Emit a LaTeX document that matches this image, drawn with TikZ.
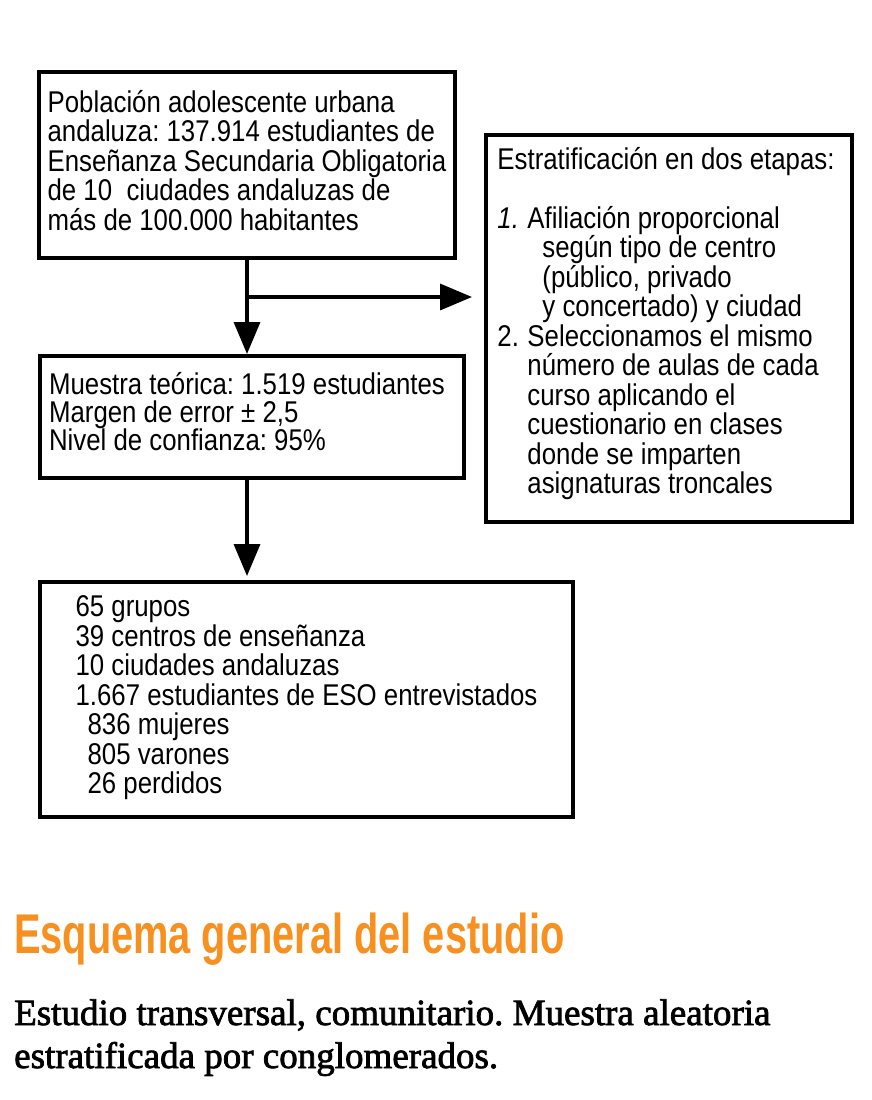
\documentclass[tikz,border=0pt]{standalone}
\usepackage{fontspec}
\usetikzlibrary{arrows.meta, positioning, calc}
\newfontfamily\condsans[FakeStretch=0.86]{Liberation Sans}
\newfontfamily\titlesans[FakeStretch=0.71, BoldFont={Liberation Sans Bold}]{Liberation Sans}
\newfontfamily\bodyserif[FakeBold=2]{Liberation Serif}
\definecolor{esquemaorange}{HTML}{F7901E}
\frenchspacing

\begin{document}
\begin{tikzpicture}[x=1pt, y=-1pt,
    caja/.style={draw=black, line width=4pt, align=left, inner sep=0pt, anchor=north west,
      text depth=10pt, font=\condsans\fontsize{30}{29.5}\selectfont},
    flecha/.style={line width=3.5pt, -{Triangle[length=32pt, width=26pt]}}]
  \useasboundingbox (0,0) rectangle (872,1100);
  % Poblacion de estudio
  \node[caja, minimum width=416pt, minimum height=186pt] (poblacion) at (37,70) {Población adolescente urbana\\andaluza: 137.914 estudiantes de\\Enseñanza Secundaria Obligatoria\\de 10\ \ ciudades andaluzas de\\más de 100.000 habitantes};
  % Estratificacion
  \node[caja, minimum width=366pt, minimum height=387pt, text depth=16pt] (estratificacion) at (484,133) {Estratificación en dos etapas:\hspace*{6pt}\\[29pt]
    \makebox[30pt][l]{\textit{1.}}Afiliación proporcional\\
    \hspace*{45pt}según tipo de centro\\
    \hspace*{45pt}(público, privado\\
    \hspace*{45pt}y concertado) y ciudad\\
    \makebox[30pt][l]{2.}Seleccionamos el mismo\\
    \hspace*{30pt}número de aulas de cada\\
    \hspace*{30pt}curso aplicando el\\
    \hspace*{30pt}cuestionario en clases\\
    \hspace*{30pt}donde se imparten\\
    \hspace*{30pt}asignaturas troncales};
  % Muestra teorica
  \node[caja, minimum width=424pt, minimum height=122pt, text depth=11pt,
    font=\condsans\fontsize{30}{28}\selectfont] (muestra) at (38,354) {Muestra teórica: 1.519 estudiantes\hspace*{10pt}\\Margen de error ± 2,5\\Nivel de confianza: 95\%};
  % Muestra final
  \node[caja, minimum width=533pt, minimum height=235pt, text depth=9pt] (resultados) at (38,580) {65 grupos\\39 centros de enseñanza\\10 ciudades andaluzas\\1.667 estudiantes de ESO entrevistados\hspace*{16pt}\\
    \hspace*{12pt}836 mujeres\\
    \hspace*{12pt}805 varones\\
    \hspace*{12pt}26 perdidos};

  % Flechas
  \coordinate (rama) at ($(poblacion.south)+(0,37)$);
  \draw[flecha] (poblacion.south) -- (poblacion.south |- muestra.north);
  \draw[flecha, shorten >=12pt] (rama) -- (rama -| estratificacion.west);
  \draw[flecha, shorten >=4pt] (poblacion.south |- muestra.south) -- (poblacion.south |- resultados.north);

  % Titulo y pie
  \node[anchor=base west, inner sep=0pt, text=esquemaorange, font=\titlesans\bfseries\fontsize{56}{56}\selectfont] (titulo) at (14,953) {Esquema general del estudio};
  \node[anchor=base west, inner sep=0pt, font=\bodyserif\fontsize{37}{43}\selectfont] (resumen1) at (14,1025) {Estudio transversal, comunitario. Muestra aleatoria};
  \node[anchor=base west, inner sep=0pt, font=\bodyserif\fontsize{37}{43}\selectfont] (resumen2) at (14,1068) {estratificada por conglomerados.};
\end{tikzpicture}
\end{document}
